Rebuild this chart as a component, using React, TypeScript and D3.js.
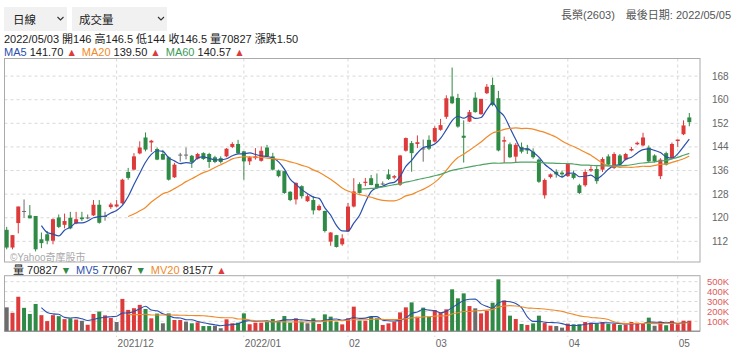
import React from 'react';
import * as d3 from 'd3';

// ---- data (index 0 = early Nov 2021 ... last = 2022/05/05) ----
const opens = [
  115.9, 109.9, 118.2, 122.3, 120.8, 120.6, 112.7, 114.4, 112.2, 120.1,
  117.6, 120.0, 118.1, 120.1, 120.1, 120.8, 124.4, 120.6, 123.6, 123.8,
  124.9, 135.5, 136.3, 141.8, 147.2, 145.5, 143.3, 141.6, 140.5, 133.7,
  141.4, 141.4, 141.0, 140.0, 141.9, 141.6, 140.5, 140.2, 140.8, 144.0,
  145.0, 142.5, 139.1, 140.2, 139.3, 143.8, 140.8, 136.0, 135.8, 128.8,
  126.2, 130.7, 125.6, 126.0, 122.6, 122.3, 111.9, 114.1, 111.0, 115.4,
  123.8, 131.4, 131.8, 133.4, 131.5, 131.6, 134.7, 133.6, 131.2, 142.7,
  145.3, 145.0, 143.5, 146.4, 145.8, 149.8, 154.2, 161.1, 160.6, 147.8,
  152.6, 160.7, 155.1, 162.2, 165.0, 160.5, 145.8, 144.9, 140.7, 144.0,
  143.5, 142.4, 139.7, 127.6, 133.8, 135.6, 135.3, 134.1, 134.9, 131.0,
  131.0, 136.0, 136.5, 136.3, 140.8, 136.9, 141.1, 139.7, 142.8, 144.9,
  144.5, 143.8, 141.1, 134.1, 141.9, 140.2, 146.0, 148.3, 154.0,
];
const highs = [
  116.9, 114.1, 123.8, 126.2, 124.3, 120.6, 115.0, 115.5, 119.8, 121.1,
  121.4, 122.0, 122.0, 122.0, 121.1, 126.0, 126.0, 122.0, 125.1, 126.0,
  133.2, 136.9, 141.9, 145.9, 148.9, 146.4, 143.8, 143.0, 140.8, 138.6,
  142.0, 143.8, 141.3, 142.0, 142.2, 142.0, 141.0, 140.8, 143.6, 145.6,
  146.4, 142.6, 140.8, 143.6, 144.2, 144.7, 142.0, 136.3, 135.9, 129.0,
  132.0, 131.0, 127.9, 127.3, 124.5, 122.4, 115.1, 114.2, 114.4, 125.0,
  133.4, 132.0, 133.5, 134.5, 135.0, 132.3, 136.4, 134.5, 141.3, 147.2,
  146.0, 147.9, 146.5, 147.9, 151.0, 153.5, 161.5, 170.9, 162.0, 153.0,
  156.5, 162.5, 160.2, 165.3, 167.5, 163.0, 147.5, 145.5, 145.3, 145.5,
  144.7, 143.5, 140.1, 133.3, 135.0, 136.4, 136.0, 138.5, 136.0, 131.5,
  136.4, 137.5, 137.5, 140.5, 141.5, 142.2, 141.6, 142.0, 144.0, 145.8,
  148.8, 144.5, 141.5, 140.2, 142.4, 145.5, 146.5, 153.0, 155.5,
];
const lows = [
  109.3, 109.3, 114.7, 120.0, 119.8, 108.6, 109.7, 111.0, 111.0, 116.5,
  116.4, 116.1, 117.8, 118.9, 119.5, 120.6, 118.0, 119.0, 123.0, 123.5,
  124.5, 132.9, 136.0, 141.5, 142.5, 142.3, 139.5, 139.6, 132.6, 133.5,
  139.0, 139.8, 136.9, 139.7, 139.6, 136.9, 138.5, 138.4, 140.5, 143.6,
  141.6, 132.9, 137.9, 139.7, 139.0, 140.5, 136.0, 133.7, 128.1, 125.6,
  124.5, 126.5, 125.4, 121.1, 122.3, 115.0, 110.5, 109.9, 110.5, 115.2,
  123.5, 128.2, 130.7, 131.0, 129.8, 131.0, 132.8, 133.0, 130.8, 142.4,
  135.6, 143.6, 139.0, 142.9, 145.5, 149.5, 153.5, 158.5, 150.5, 138.7,
  152.4, 155.6, 154.9, 161.9, 157.8, 142.5, 138.5, 140.2, 138.7, 141.8,
  141.6, 140.0, 131.8, 126.5, 133.3, 133.6, 133.5, 133.8, 133.0, 128.0,
  130.5, 135.5, 131.5, 135.5, 137.8, 136.5, 137.5, 139.4, 142.5, 144.6,
  144.2, 138.9, 138.7, 133.1, 137.7, 139.8, 144.0, 148.0, 151.0,
];
const closes = [
  109.9, 114.1, 123.8, 122.3, 119.8, 109.3, 111.4, 112.2, 119.5, 116.9,
  118.9, 116.4, 119.5, 119.5, 120.1, 124.4, 118.3, 120.6, 124.5, 124.5,
  132.9, 133.5, 140.8, 143.8, 143.1, 146.1, 139.7, 139.7, 132.9, 138.0,
  141.4, 141.4, 138.9, 141.6, 139.9, 138.9, 138.9, 138.9, 143.4, 145.0,
  141.9, 139.1, 140.5, 140.8, 142.7, 140.8, 136.3, 134.1, 128.4, 126.0,
  131.8, 127.3, 127.3, 122.5, 124.0, 115.5, 115.0, 110.1, 113.0, 123.8,
  128.9, 128.4, 132.2, 131.1, 130.1, 131.6, 133.1, 134.1, 141.1, 147.0,
  141.9, 145.6, 143.5, 143.4, 150.4, 151.4, 160.5, 158.8, 150.9, 147.1,
  155.8, 155.8, 160.3, 164.4, 158.2, 142.8, 146.3, 140.5, 144.7, 142.4,
  142.8, 140.5, 132.2, 132.8, 134.7, 134.7, 134.7, 138.2, 133.5, 128.4,
  135.5, 136.5, 132.4, 139.9, 138.0, 141.6, 138.0, 141.6, 143.3, 145.4,
  147.2, 139.1, 139.1, 139.7, 138.0, 145.0, 146.5, 151.3, 152.4,
];
// volume in thousands of shares (張)
const volumes = [
  241, 186, 348, 236, 174, 275, 162, 102, 162, 152,
  122, 130, 118, 105, 65, 174, 199, 160, 133, 93,
  326, 215, 232, 266, 224, 130, 178, 80, 180, 113,
  113, 96, 80, 90, 52, 52, 55, 30, 120, 80,
  86, 180, 70, 86, 86, 103, 123, 106, 153, 86,
  130, 96, 80, 130, 73, 170, 147, 96, 69, 130,
  248, 106, 106, 147, 130, 63, 79, 96, 190, 241,
  291, 147, 238, 147, 214, 187, 221, 423, 332, 382,
  254, 231, 180, 207, 288, 524, 311, 157, 123, 73,
  63, 79, 157, 82, 56, 52, 36, 76, 70, 70,
  93, 86, 80, 93, 76, 73, 63, 66, 93, 86,
  83, 137, 55, 95, 60, 104.5, 70.827, 106, 106,
];

const monthStartIdx = [19, 41, 59, 74, 97, 116];
const monthLabels = ['2021/12', '2022/01', '02', '03', '04', '05'];
const priceTicks = [112, 120, 128, 136, 144, 152, 160, 168];
const volTicks = [100, 200, 300, 400, 500];
const volTickLabels = ['100K', '200K', '300K', '400K', '500K'];
const maPeriods = [5, 20, 60];

const RED = '#dd3b3b';
const GREEN = '#2f8a45';
const GRAY = '#6b6b6b';
const MA_COLORS = ['#2a4fae', '#f08a2a', '#4fa465'];
const FONT = "'Liberation Sans', Arial, 'Noto Sans CJK TC', sans-serif";

function rolling(arr: number[], n: number) {
  return arr.map((_, i) => (i < n - 1 ? null : d3.mean(arr.slice(i - n + 1, i + 1)) as number));
}

export default function App() {
  const N = closes.length;
  const x = d3.scaleLinear().domain([0, N - 1]).range([6.7, 689.3]);
  const y = d3.scaleLinear().domain([105, 173.8]).range([262, 59]);
  const yv = d3.scaleLinear().domain([0, 500]).range([331.2, 281.7]);
  const L = 4.5, R = 700;
  const mainTop = 58.5, mainBot = 262;
  const volTop = 275.7, volBot = 331.2;
  const bw = 4;

  const lineP = (vals: (number | null)[], start: number, sc: any) =>
    d3.line<[number, number]>().x(d => d[0]).y(d => d[1]).curve(d3.curveMonotoneX)(
      vals.map((v, i) => [i, v] as [number, number | null])
        .filter(([i, v]) => v !== null && i >= start)
        .map(([i, v]) => [x(i), sc(v as number)] as [number, number])
    ) || '';

  const maLines = maPeriods.map(n => lineP(rolling(closes, n), n + 1, y));
  const mvLines = [5, 20].map(n => lineP(rolling(volumes, n), n + 1, yv));

  const candleColor = (i: number) =>
    closes[i] > opens[i] ? RED : closes[i] < opens[i] ? GREEN : GRAY;
  const volColor = (i: number) =>
    i === 0 ? GRAY : closes[i] > closes[i - 1] ? RED : closes[i] < closes[i - 1] ? GREEN : GRAY;

  const chevron = (cx: number, cy: number) =>
    `M${cx - 3},${cy - 1.5} L${cx},${cy + 1.5} L${cx + 3},${cy - 1.5}`;

  const tri = 10.5;

  return (
    <svg width={740} height={351} style={{ position: 'absolute', left: 0, top: 0, background: '#fff' }}
      fontFamily={FONT}>
      <rect x={0} y={0} width={740} height={351} fill="#fff" />
      {/* dropdowns */}
      <rect x={4} y={7} width={63} height={24} fill="#f1f1f1" />
      <rect x={72} y={7} width={95} height={24} fill="#f1f1f1" />
      <text x={13} y={23.5} fontSize={11.5} fill="#222">日線</text>
      <text x={79} y={23.5} fontSize={11.5} fill="#222">成交量</text>
      <path d={chevron(60.5, 18.5)} stroke="#333" strokeWidth={1.1} fill="none" />
      <path d={chevron(161, 18.5)} stroke="#333" strokeWidth={1.1} fill="none" />

      {/* header right */}
      <text x={731} y={19} fontSize={11} fill="#555" textAnchor="end">長榮(2603)　最後日期: 2022/05/05</text>

      {/* info line */}
      <text x={4} y={43} fontSize={11} fill="#222">2022/05/03 開146 高146.5 低144 收146.5 量70827 漲跌1.50</text>
      <text x={4} y={55.5} fontSize={11} fill="#222">
        <tspan fill={MA_COLORS[0]}>MA5</tspan><tspan> 141.70 </tspan><tspan fill={RED} fontSize={tri}>▲</tspan>
        <tspan dx={5} fill={MA_COLORS[1]}>MA20</tspan><tspan> 139.50 </tspan><tspan fill={RED} fontSize={tri}>▲</tspan>
        <tspan dx={5} fill="#3e9a57">MA60</tspan><tspan> 140.57 </tspan><tspan fill={RED} fontSize={tri}>▲</tspan>
      </text>

      {/* main grid */}
      {priceTicks.map(t => (
        <line key={'h' + t} x1={L} x2={R} y1={y(t)} y2={y(t)} stroke="#d8d8d8" strokeDasharray="3,3" />
      ))}
      {monthStartIdx.map(i => (
        <g key={'v' + i}>
          <line x1={x(i)} x2={x(i)} y1={mainTop} y2={mainBot} stroke="#d8d8d8" strokeDasharray="3,3" />
          <line x1={x(i)} x2={x(i)} y1={volTop} y2={337} stroke="#d8d8d8" strokeDasharray="3,3" />
        </g>
      ))}
      <rect x={L} y={mainTop} width={R - L} height={mainBot - mainTop} fill="none" stroke="#aaa" />
      {priceTicks.map(t => (
        <text key={'pt' + t} x={712} y={y(t) + 3.5} fontSize={10} fill="#666">{t}</text>
      ))}

      {/* candles */}
      {closes.map((c, i) => {
        const col = candleColor(i);
        const top = y(Math.max(opens[i], c));
        const bot = y(Math.min(opens[i], c));
        return (
          <g key={'c' + i}>
            <line x1={x(i)} x2={x(i)} y1={y(highs[i])} y2={y(lows[i])} stroke={col} strokeWidth={1} />
            <rect x={x(i) - bw / 2} y={top} width={bw} height={Math.max(1, bot - top)} fill={col} />
          </g>
        );
      })}
      {maLines.map((d, k) => (
        <path key={'ma' + k} d={d} fill="none" stroke={MA_COLORS[k]} strokeWidth={1.2} />
      ))}
      <text x={10} y={260.5} fontSize={10} fill="#aaa">©Yahoo奇摩股市</text>

      {/* volume legend */}
      <text x={13} y={274} fontSize={11} fill="#222">
        <tspan>量 70827 </tspan><tspan fill={GREEN} fontSize={tri}>▼</tspan>
        <tspan dx={5} fill={MA_COLORS[0]}>MV5</tspan><tspan> 77067 </tspan><tspan fill={GREEN} fontSize={tri}>▼</tspan>
        <tspan dx={5} fill={MA_COLORS[1]}>MV20</tspan><tspan> 81577 </tspan><tspan fill={RED} fontSize={tri}>▲</tspan>
      </text>

      {/* volume panel */}
      {volTicks.map(t => (
        <line key={'vh' + t} x1={L} x2={R} y1={yv(t)} y2={yv(t)} stroke="#d8d8d8" strokeDasharray="3,3" />
      ))}
      <rect x={L} y={volTop} width={R - L} height={volBot - volTop} fill="none" stroke="#aaa" />
      {volumes.map((v, i) => (
        <rect key={'vb' + i} x={x(i) - bw / 2} y={yv(v)} width={bw} height={yv(0) - yv(v)} fill={volColor(i)} />
      ))}
      {mvLines.map((d, k) => (
        <path key={'mv' + k} d={d} fill="none" stroke={MA_COLORS[k]} strokeWidth={1.1} />
      ))}
      <line x1={L} x2={R} y1={volBot} y2={volBot} stroke="#888" />
      {volTicks.map((t, k) => (
        <text key={'vt' + t} x={707} y={yv(t) + 3.5} fontSize={9.5} fill="#e05a5a">{volTickLabels[k]}</text>
      ))}
      {monthStartIdx.map((i, k) => (
        <text key={'ml' + i} x={x(i) + 1} y={347} fontSize={10} fill="#666">{monthLabels[k]}</text>
      ))}
    </svg>
  );
}
